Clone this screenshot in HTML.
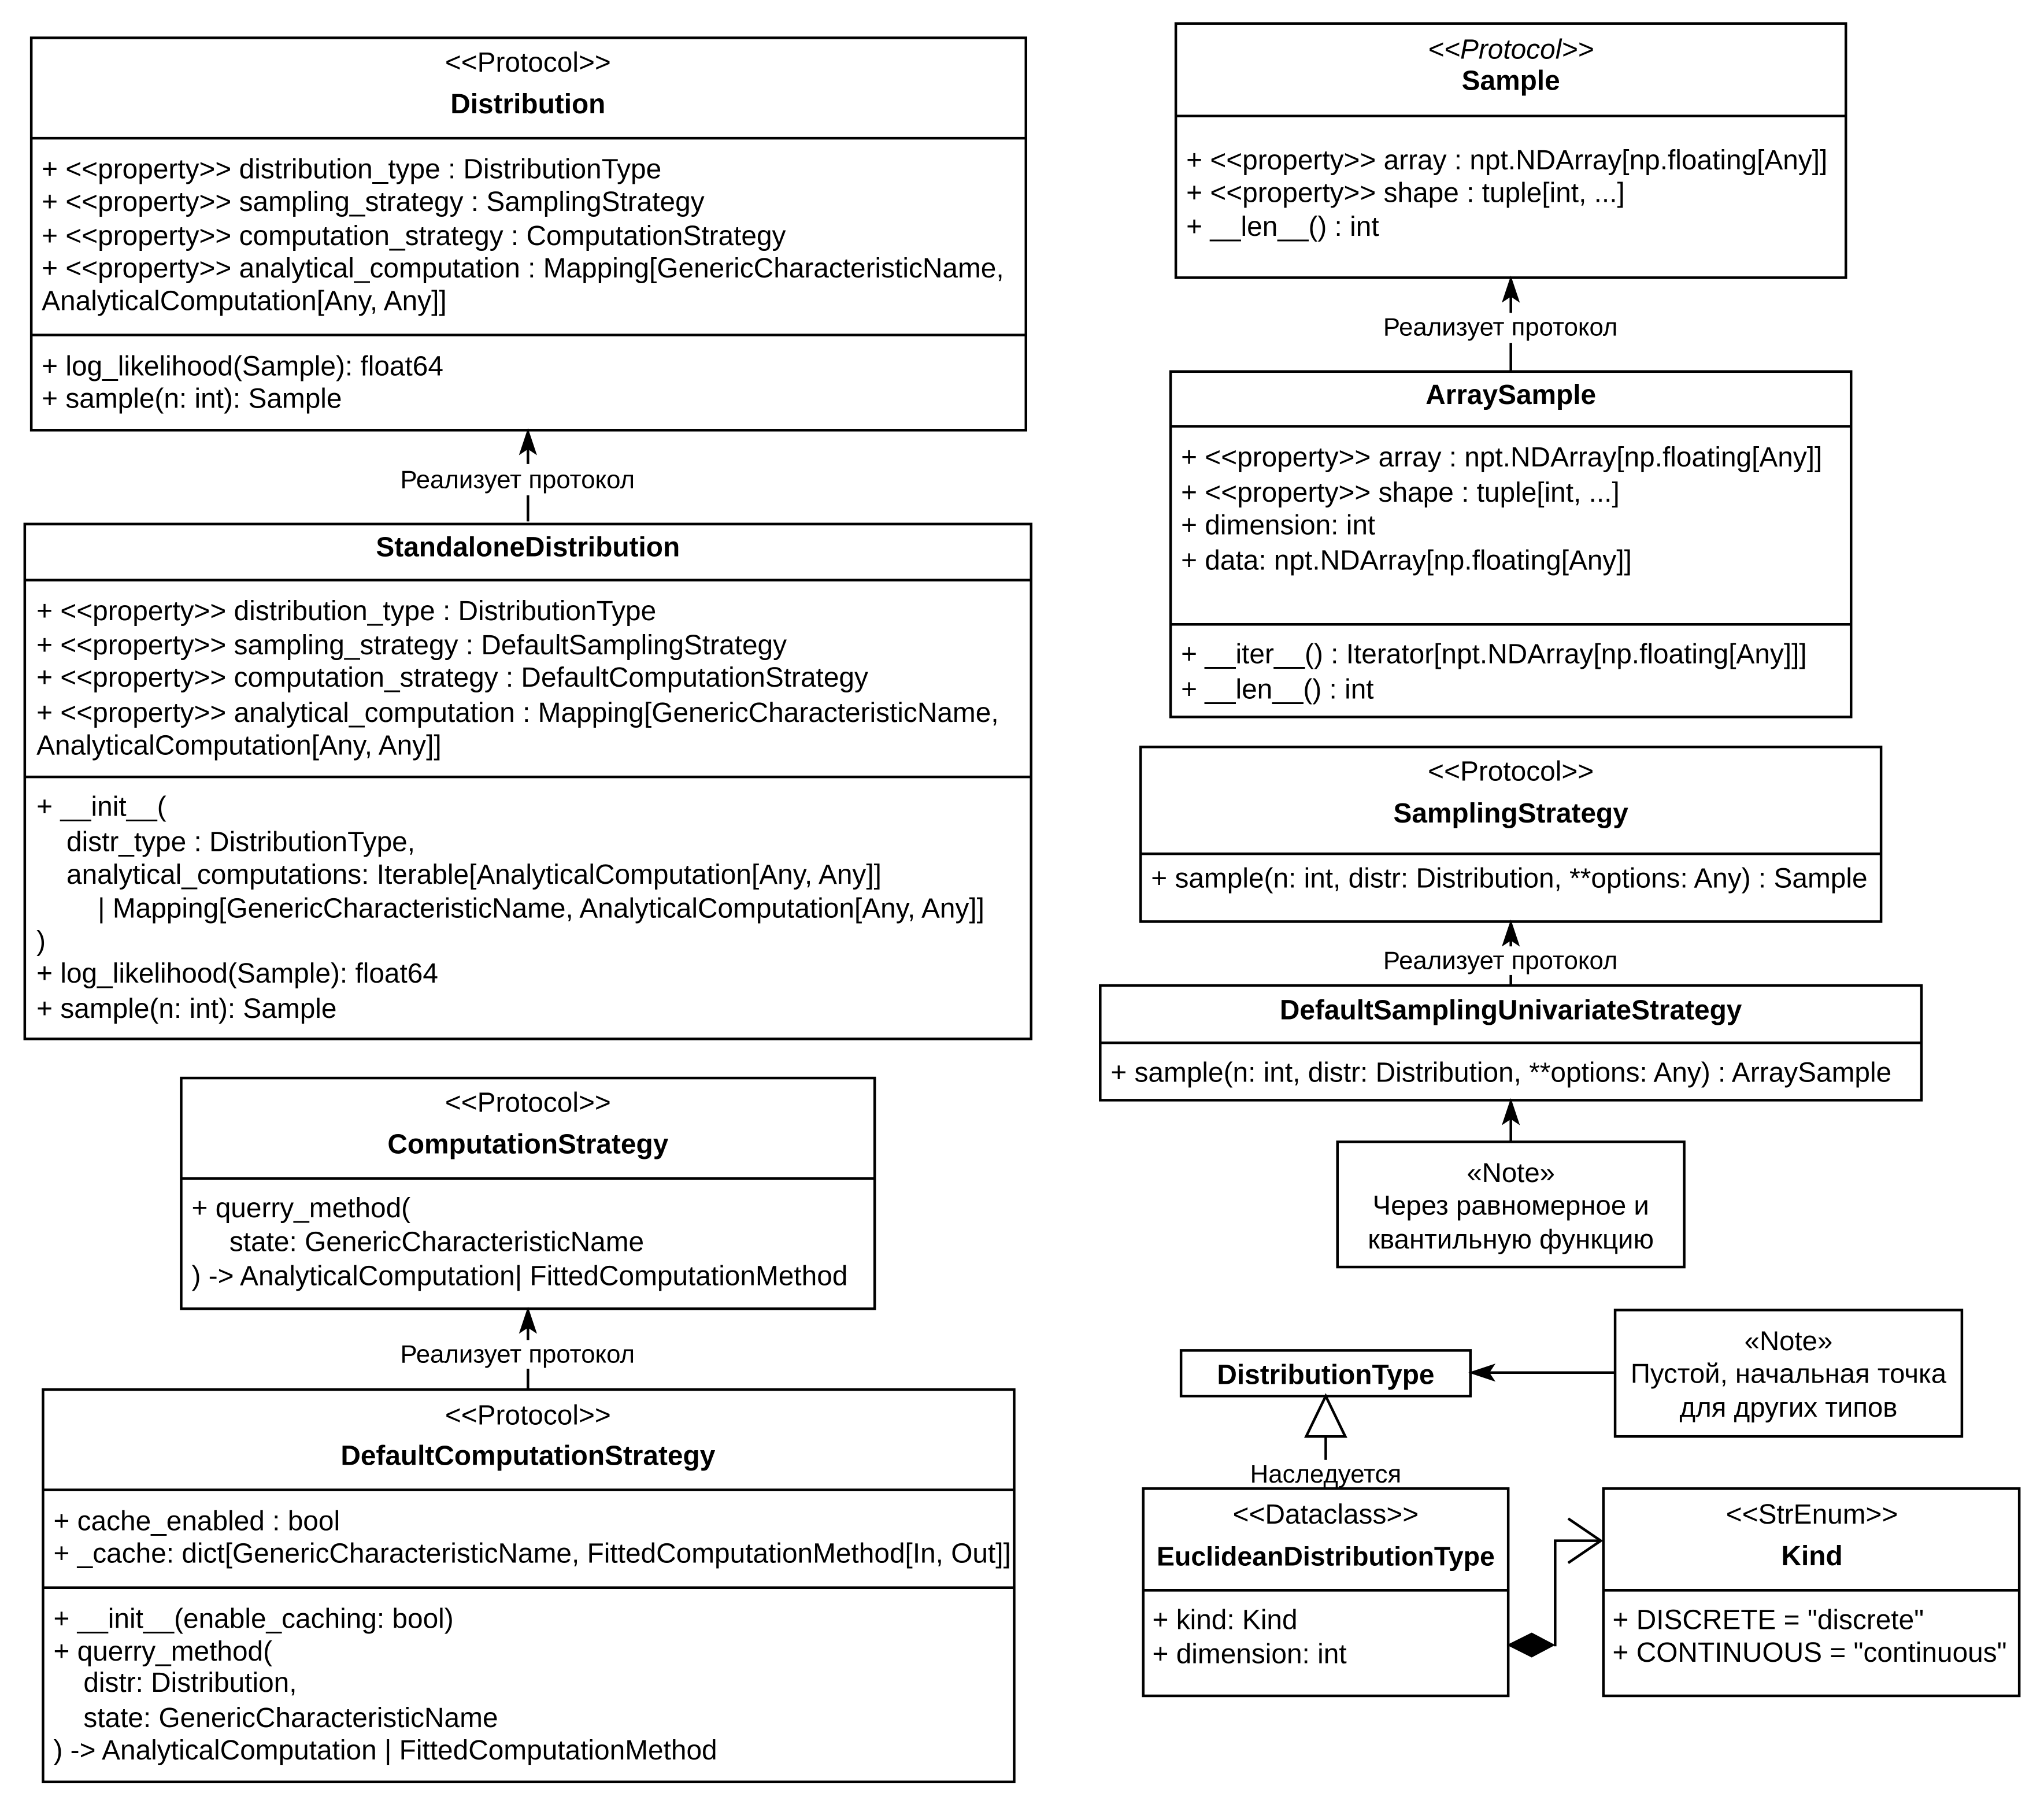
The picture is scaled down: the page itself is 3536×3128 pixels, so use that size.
<!DOCTYPE html>
<html><head><meta charset="utf-8"><style>html,body{margin:0;padding:0;background:#fff}svg{display:block}text{font-family:"Liberation Sans",Arial,sans-serif}</style></head>
<body>
<svg xmlns="http://www.w3.org/2000/svg" width="3536" height="3128" viewBox="0 0 1568 1387">
<rect width="1568" height="1387" fill="#fff"/>
<g fill="#fff" stroke="#000" stroke-width="2">
<rect x="24" y="29" width="763" height="301"/><line x1="24" y1="106" x2="787" y2="106"/><line x1="24" y1="257" x2="787" y2="257"/>
<rect x="19" y="402" width="772" height="395"/><line x1="19" y1="445" x2="791" y2="445"/><line x1="19" y1="596" x2="791" y2="596"/>
<rect x="139" y="827" width="532" height="177"/><line x1="139" y1="904" x2="671" y2="904"/>
<rect x="33" y="1066" width="745" height="301"/><line x1="33" y1="1143" x2="778" y2="1143"/><line x1="33" y1="1218" x2="778" y2="1218"/>
<rect x="902" y="18" width="514" height="195"/><line x1="902" y1="89" x2="1416" y2="89"/>
<rect x="898" y="285" width="522" height="265"/><line x1="898" y1="327" x2="1420" y2="327"/><line x1="898" y1="479" x2="1420" y2="479"/>
<rect x="875" y="573" width="568" height="134"/><line x1="875" y1="655" x2="1443" y2="655"/>
<rect x="844" y="756" width="630" height="88"/><line x1="844" y1="800" x2="1474" y2="800"/>
<rect x="1026" y="876" width="266" height="96"/>
<rect x="906" y="1036" width="222" height="35"/>
<rect x="1239" y="1005" width="266" height="97"/>
<rect x="877" y="1142" width="280" height="159"/><line x1="877" y1="1220" x2="1157" y2="1220"/>
<rect x="1230" y="1142" width="319" height="159"/><line x1="1230" y1="1220" x2="1549" y2="1220"/>
</g>
<g stroke="#000" stroke-width="2" fill="none">
<line x1="405" y1="400" x2="405" y2="380"/><line x1="405" y1="356" x2="405" y2="336"/>
<line x1="405" y1="1066" x2="405" y2="1050"/><line x1="405" y1="1028" x2="405" y2="1010"/>
<line x1="1159" y1="285" x2="1159" y2="263"/><line x1="1159" y1="240" x2="1159" y2="219"/>
<line x1="1159" y1="756" x2="1159" y2="748"/><line x1="1159" y1="726" x2="1159" y2="713"/>
<line x1="1159" y1="876" x2="1159" y2="850"/>
<line x1="1239" y1="1053" x2="1134" y2="1053"/>
<line x1="1017" y1="1103" x2="1017" y2="1120"/>
<polyline points="1192,1262 1193,1262 1193,1182 1228,1182"/>
<polyline points="1203,1165 1228,1182 1203,1199"/>
</g>
<g fill="#000" stroke="#000" stroke-width="1">
<polygon points="405,330 399,348 405,344 411,348"/>
<polygon points="405,1004 399,1022 405,1018 411,1022"/>
<polygon points="1159,213 1153,231 1159,227 1165,231"/>
<polygon points="1159,707 1153,725 1159,721 1165,725"/>
<polygon points="1159,844 1153,862 1159,858 1165,862"/>
<polygon points="1128,1053 1146,1047 1142,1053 1146,1059"/>
<polygon points="1157,1262 1175,1253 1192,1262 1175,1271"/>
</g>
<polygon points="1017,1071 1002,1102 1032,1102" fill="#fff" stroke="#000" stroke-width="2"/>
<g font-size="21.2" fill="#000" dominant-baseline="central">
<g text-anchor="middle">
<text x="405" y="48">&lt;&lt;Protocol&gt;&gt;</text>
<text x="405" y="80" font-weight="bold" font-size="21.2">Distribution</text>
<text x="397" y="368" font-size="19.4">Реализует протокол</text>
<text x="405" y="420" font-weight="bold" font-size="21.2">StandaloneDistribution</text>
<text x="405" y="846">&lt;&lt;Protocol&gt;&gt;</text>
<text x="405" y="878" font-weight="bold" font-size="21.2">ComputationStrategy</text>
<text x="397" y="1039" font-size="19.4">Реализует протокол</text>
<text x="405" y="1086">&lt;&lt;Protocol&gt;&gt;</text>
<text x="405" y="1117" font-weight="bold" font-size="21.2">DefaultComputationStrategy</text>
<text x="1159" y="38" font-style="italic">&lt;&lt;Protocol&gt;&gt;</text>
<text x="1159" y="62" font-weight="bold">Sample</text>
<text x="1151" y="251" font-size="19.4">Реализует протокол</text>
<text x="1159" y="303" font-weight="bold">ArraySample</text>
<text x="1159" y="592">&lt;&lt;Protocol&gt;&gt;</text>
<text x="1159" y="624" font-weight="bold">SamplingStrategy</text>
<text x="1151" y="737" font-size="19.4">Реализует протокол</text>
<text x="1159" y="775" font-weight="bold">DefaultSamplingUnivariateStrategy</text>
<text x="1159" y="900" font-size="21">«Note»</text>
<text x="1159" y="925" font-size="21">Через равномерное и</text>
<text x="1159" y="951" font-size="21">квантильную функцию</text>
<text x="1017" y="1055" font-weight="bold">DistributionType</text>
<text x="1372" y="1029" font-size="21">«Note»</text>
<text x="1372" y="1054" font-size="21">Пустой, начальная точка</text>
<text x="1372" y="1080" font-size="21">для других типов</text>
<text x="1017" y="1131" font-size="19.4">Наследуется</text>
<text x="1017" y="1162">&lt;&lt;Dataclass&gt;&gt;</text>
<text x="1017" y="1194" font-weight="bold" font-size="20.6">EuclideanDistributionType</text>
<text x="1390" y="1162">&lt;&lt;StrEnum&gt;&gt;</text>
<text x="1390" y="1194" font-weight="bold">Kind</text>
</g>
<text x="32" y="130">+ &lt;&lt;property&gt;&gt; distribution_type : DistributionType</text>
<text x="32" y="155">+ &lt;&lt;property&gt;&gt; sampling_strategy : SamplingStrategy</text>
<text x="32" y="181">+ &lt;&lt;property&gt;&gt; computation_strategy : ComputationStrategy</text>
<text x="32" y="206">+ &lt;&lt;property&gt;&gt; analytical_computation : Mapping[GenericCharacteristicName,</text>
<text x="32" y="231">AnalyticalComputation[Any, Any]]</text>
<text x="32" y="281">+ log_likelihood(Sample): float64</text>
<text x="32" y="306">+ sample(n: int): Sample</text>

<text x="28" y="469">+ &lt;&lt;property&gt;&gt; distribution_type : DistributionType</text>
<text x="28" y="495">+ &lt;&lt;property&gt;&gt; sampling_strategy : DefaultSamplingStrategy</text>
<text x="28" y="520">+ &lt;&lt;property&gt;&gt; computation_strategy : DefaultComputationStrategy</text>
<text x="28" y="547">+ &lt;&lt;property&gt;&gt; analytical_computation : Mapping[GenericCharacteristicName,</text>
<text x="28" y="572">AnalyticalComputation[Any, Any]]</text>
<text x="28" y="619">+ __init__(</text>
<text x="51" y="646">distr_type : DistributionType,</text>
<text x="51" y="671">analytical_computations: Iterable[AnalyticalComputation[Any, Any]]</text>
<text x="75" y="697">| Mapping[GenericCharacteristicName, AnalyticalComputation[Any, Any]]</text>
<text x="28" y="722">)</text>
<text x="28" y="747">+ log_likelihood(Sample): float64</text>
<text x="28" y="774">+ sample(n: int): Sample</text>

<text x="147" y="927">+ querry_method(</text>
<text x="176" y="953">state: GenericCharacteristicName</text>
<text x="147" y="979">) -&gt; AnalyticalComputation| FittedComputationMethod</text>

<text x="41" y="1167">+ cache_enabled : bool</text>
<text x="41" y="1192">+ _cache: dict[GenericCharacteristicName, FittedComputationMethod[In, Out]]</text>
<text x="41" y="1242">+ __init__(enable_caching: bool)</text>
<text x="41" y="1267">+ querry_method(</text>
<text x="64" y="1291">distr: Distribution,</text>
<text x="64" y="1318">state: GenericCharacteristicName</text>
<text x="41" y="1343">) -&gt; AnalyticalComputation | FittedComputationMethod</text>

<text x="910" y="123">+ &lt;&lt;property&gt;&gt; array : npt.NDArray[np.floating[Any]]</text>
<text x="910" y="148">+ &lt;&lt;property&gt;&gt; shape : tuple[int, ...]</text>
<text x="910" y="174">+ __len__() : int</text>

<text x="906" y="351">+ &lt;&lt;property&gt;&gt; array : npt.NDArray[np.floating[Any]]</text>
<text x="906" y="378">+ &lt;&lt;property&gt;&gt; shape : tuple[int, ...]</text>
<text x="906" y="403">+ dimension: int</text>
<text x="906" y="430">+ data: npt.NDArray[np.floating[Any]]</text>
<text x="906" y="502">+ __iter__() : Iterator[npt.NDArray[np.floating[Any]]]</text>
<text x="906" y="529">+ __len__() : int</text>

<text x="883" y="674">+ sample(n: int, distr: Distribution, **options: Any) : Sample</text>
<text x="852" y="823">+ sample(n: int, distr: Distribution, **options: Any) : ArraySample</text>

<text x="884" y="1243">+ kind: Kind</text>
<text x="884" y="1269">+ dimension: int</text>
<text x="1237" y="1243">+ DISCRETE = "discrete"</text>
<text x="1237" y="1268">+ CONTINUOUS = "continuous"</text>
</g>
</svg>
</body></html>
